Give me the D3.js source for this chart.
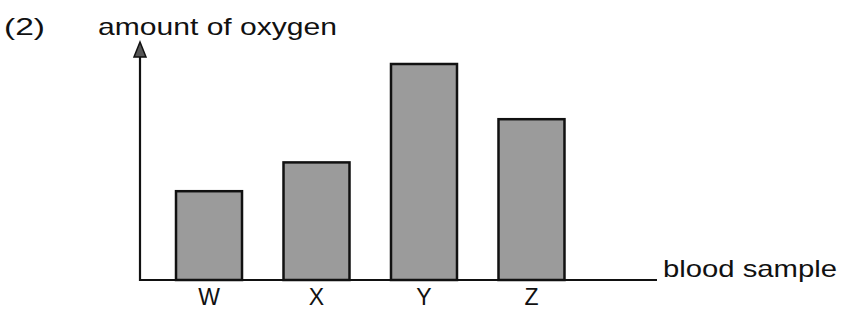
<!DOCTYPE html>
<meta charset="utf-8">
<style>
body { margin: 0; background: #fff; }
text { font-family: "Liberation Sans", Arial, sans-serif; fill: #111; }
.bar { fill: #9b9b9b; stroke: #111; stroke-width: 2.5px; }
.axis-line { stroke: #111; stroke-width: 2.2px; fill: none; }
</style>
<body>
<script src="https://d3js.org/d3.v7.min.js"></script>
<script>
// data (arbitrary units, no scale shown)
var samples = ["W", "X", "Y", "Z"];
var oxygen = [3.7, 4.9, 9.0, 6.7];

var width = 844, height = 311;
var baseY = 280, axisX = 140;

var svg = d3.select("body").append("svg")
    .attr("width", width)
    .attr("height", height);

// scales
var x = d3.scaleBand()
    .domain(samples)
    .range([140, 600.5])
    .paddingInner(0.386)
    .paddingOuter(0.335);

var y = d3.scaleLinear()
    .domain([0, 10])
    .range([baseY, 40]);

// bars
svg.selectAll(".bar")
    .data(samples)
  .enter().append("rect")
    .attr("class", "bar")
    .attr("x", function(d) { return x(d); })
    .attr("y", function(d, i) { return y(oxygen[i]); })
    .attr("width", x.bandwidth())
    .attr("height", function(d, i) { return baseY - y(oxygen[i]); });

// y axis with arrow
svg.append("line")
    .attr("class", "axis-line")
    .attr("x1", axisX).attr("y1", baseY + 1)
    .attr("x2", axisX).attr("y2", 55);
svg.append("path")
    .attr("d", "M" + axisX + ",42 L" + (axisX - 6) + ",57 L" + (axisX + 6) + ",57 Z")
    .attr("fill", "#555")
    .attr("stroke", "#111")
    .attr("stroke-width", 1.5);

// x axis line
svg.append("line")
    .attr("class", "axis-line")
    .attr("x1", axisX - 1).attr("y1", baseY)
    .attr("x2", 657).attr("y2", baseY);

// category labels
svg.selectAll(".lab")
    .data(samples)
  .enter().append("text")
    .attr("class", "lab")
    .attr("x", function(d) { return x(d) + x.bandwidth() / 2; })
    .attr("y", 305)
    .attr("text-anchor", "middle")
    .style("font-size", "23px")
    .text(function(d) { return d; });

// titles
svg.append("text")
    .attr("x", 4).attr("y", 35)
    .attr("textLength", 41).attr("lengthAdjust", "spacingAndGlyphs")
    .style("font-size", "24px")
    .text("(2)");

svg.append("text")
    .attr("x", 98).attr("y", 35)
    .attr("textLength", 239).attr("lengthAdjust", "spacingAndGlyphs")
    .style("font-size", "24px")
    .text("amount of oxygen");

svg.append("text")
    .attr("x", 663).attr("y", 277)
    .attr("textLength", 174).attr("lengthAdjust", "spacingAndGlyphs")
    .style("font-size", "24px")
    .text("blood sample");
</script>
</body>
